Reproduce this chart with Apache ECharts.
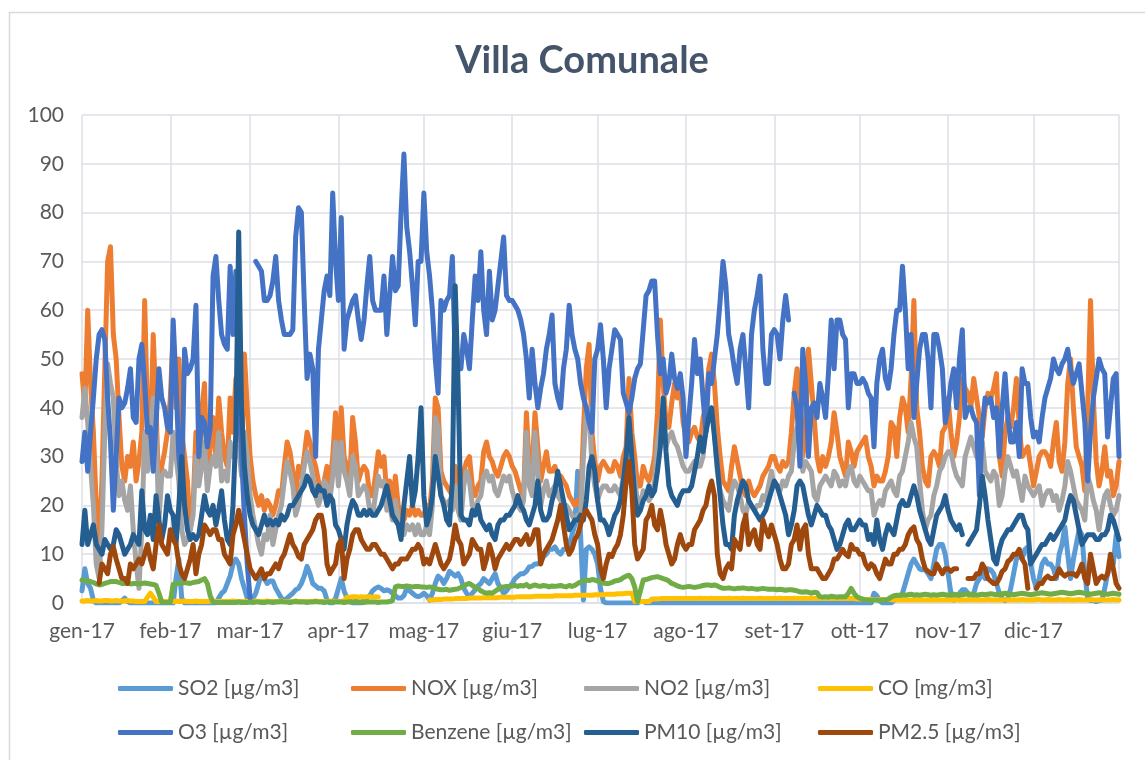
<!DOCTYPE html>
<html>
<head>
<meta charset="utf-8">
<title>Villa Comunale</title>
<script src="https://cdn.jsdelivr.net/npm/echarts@6/dist/echarts.min.js"></script>
<style>
  html, body { margin: 0; padding: 0; background: #ffffff; }
  #chart { width: 1145px; height: 760px; }
</style>
</head>
<body>
<div id="chart"></div>
<script>
// Daily means for 2017 at the Villa Comunale station.
const MONTH_LABELS = ['gen-17', 'feb-17', 'mar-17', 'apr-17', 'mag-17', 'giu-17',
                      'lug-17', 'ago-17', 'set-17', 'ott-17', 'nov-17', 'dic-17'];
const MONTH_DAYS = [31, 28, 31, 30, 31, 30, 31, 31, 30, 31, 30, 31];

const SERIES_NAMES = ['SO2 [µg/m3]', 'NOX [µg/m3]', 'NO2 [µg/m3]', 'CO [mg/m3]',
                      'O3 [µg/m3]', 'Benzene [µg/m3]', 'PM10 [µg/m3]', 'PM2.5 [µg/m3]'];
const SERIES_COLORS = ['#5B9BD5', '#ED7D31', '#A5A5A5', '#FFC000',
                       '#4472C4', '#70AD47', '#255E91', '#9E480E'];

// one row per month, Jan..Dec
const SO2 = [
  2.5,7,4,3,0.5,0,0,0,0,0, 0,0,0,0,0.5,1,0.3,0,0,0, 0,0,0,0,0,0,0,0,0,0, 0,
  0,0,5,9,1,0,0,0,0,0, 0,0,0,0,0,0,0,1,2,2.5, 4,5.5,8,9,8,5,3,1,
  0.5,1,2,4,6,5,4,4.5,4.5,3, 2,1,0.5,1,1.5,2,2.7,3,4,5.5, 7.5,6,4,3.5,3,3,2.5,0.6,0,0, 1,
  3,5,2.5,1,0.5,0,0,0,0,0.5, 1,1.5,2.5,3,3.3,3,2.5,2.7,2.5,2, 1.5,1,1,1.5,3,2.5,2,1.5,1.3,1.5,
  2,1.5,0.6,2,4,5.5,5,4,5,6.5, 6,5.5,6,5,3,2,1.3,2,2.7,3.5, 4,5,4.5,4,5,6,4,3,2,2.5, 3.3,
  4,5,5.5,6,6,6.5,7.4,7.5,8,8, 8.5,9.5,10,11,11,11.5,10.5,10,11,11, 12,14,16,27,14,0.6,11,11.5,11,10,
  8,3,0.3,0,0,0,0,0,0,0, 0,0,0,0,0,0.3,0.3,0,0,0, 0,0,0,0,0,0,0,0,0,0, 0,
  0,0,0,0,0,0,0,0,0,0, 0,0,0,0,0,0,0,0,0,0, 0,0,0,0,0,0,0,0,0,0, 0,
  0,0,0,0,0,0,0,0,0,0, 0,0,0,0,0,0,0,0,0,0, 0,0,0,0,0,0,0,0,0,0,
  0,0,0,0,0,2,1.5,0.5,0,0, 0,0,0.5,1,1,2,4,6,8,9, 8,7,6.8,6.8,6,5,8,11,12,12, 10,
  6,2,0.6,1,2,2.7,2.7,2,1,2, 4,5,6,5,7,6.8,6,4,2,1, 0.5,1,3,6,9,10,9,11,11.5,8,
  5,3,5,8,9,8,8,7,5,10, 12,15.6,10,5,9,12,15,14,6,1, 0.5,0.5,0.3,0.5,0.6,3,6,8,8,14, 9.5
];

const NOX = [
  47,40,60,45,35,20,12,25,48,70, 73,55,50,38,28,25,30,28,33,25, 29,35,62,38,32,55,40,22,28,31, 35,
  42,55,40,50,35,30,25,15,20,35, 25,39,45,25,32,38,30,42,35,30, 28,42,35,46,40,30,51,40,
  30,25,22,20,22,19,21,20,18,20, 23,22,28,33,31,27,22,28,26,30, 35,33,30,28,25,22,25,28,24,30, 39,
  27,40,30,28,25,38,33,25,27,28, 27,22,22,26,31,28,30,22,25,20, 26,20,18,17,19,18,20,18,19,18,
  18,20,19,25,42,40,27,25,24,23, 22,28,22,20,27,29,30,24,22,24, 25,31,33,30,29,27,26,28,30,31, 30,
  28,27,25,23,22,39,28,27,39,32, 25,28,31,27,27,28,26,26,25,24, 22,21,20,21,20,35,48,53,35,29,
  25,28,29,28,27,27,29,28,26,30, 32,46,35,30,24,24,28,26,25,27, 30,39,58,45,37,36,41,45,42,44, 37,
  34,33,35,36,34,33,38,40,48,51, 45,36,30,25,24,23,28,32,29,26, 23,22,25,23,22,23,24,26,27,28, 30,
  30,28,27,29,28,29,35,43,48,42, 30,35,52,45,38,30,27,30,28,30, 33,39,35,30,28,26,33,31,28,31,
  32,33,34,30,28,24,26,25,25,27, 30,37,36,30,38,42,40,35,46,62, 40,35,28,25,24,30,31,30,28,35, 36,
  42,35,30,33,38,46,44,43,40,46, 42,38,34,40,43,42,44,47,30,26, 35,38,36,40,46,36,30,31,32,28,
  24,27,30,31,31,30,28,33,37,29, 27,33,45,50,40,32,30,28,23,40, 62,42,29,24,27,32,26,27,22,24, 29
];

const NO2 = [
  38,44,37,28,20,8,5,15,35,49, 45,42,29,22,25,21,19,24,15,8, 3,15,35,27,32,42,35,17,26,27, 26,
  26,35,30,25,15,12,13,15,18,30, 24,28,33,23,28,30,28,35,25,27, 25,33,30,30,32,26,35,30,
  22,18,15,12,10,14,13,18,12,15, 18,20,25,29,27,24,18,20,24,28, 31,29,26,22,20,22,25,24,21,26, 33,
  24,33,27,25,22,30,28,22,23,24, 23,19,18,22,26,24,25,19,20,17, 21,17,15,14,16,15,16,14,16,14,
  14,16,14,20,38,36,22,21,20,21, 19,24,19,17,24,27,25,20,19,21, 22,26,27,25,26,23,22,24,26,25, 26,
  23,21,20,19,21,35,24,22,35,27, 20,23,25,22,23,24,22,21,20,20, 19,18,17,18,17,30,39,40,28,24,
  21,23,24,24,23,23,24,23,22,26, 28,35,30,25,21,20,23,22,21,22, 25,33,37,39,32,34,35,33,32,30, 28,
  27,27,28,29,28,28,30,37,39,40, 35,27,23,21,20,19,23,25,24,22, 19,18,21,20,19,20,20,22,21,24, 27,
  24,24,23,25,24,26,27,33,36,33, 27,29,28,27,22,21,24,25,26,25, 24,27,26,24,25,24,27,28,25,24,
  26,25,24,23,23,18,20,21,20,23, 24,25,23,22,26,27,30,33,37,34, 32,25,19,15,17,18,22,24,27,28, 30,
  31,31,28,26,25,24,30,32,34,32, 30,29,33,27,26,25,27,26,20,22, 27,30,28,26,27,24,21,26,24,23,
  22,23,24,20,22,23,23,21,22,19, 21,24,29,27,24,21,20,19,17,26, 24,21,19,15,19,22,23,20,18,19, 22
];

const CO = [
  0.4,0.4,0.5,0.4,0.4,0.5,0.4,0.4,0.5,0.5, 0.4,0.4,0.5,0.4,0.4,0.4,0.5,0.4,0.4,0.3, 0.3,0.3,0.3,1.2,2.0,1.2,0.3,0.3,0.4,0.3, 0.3,
  0.3,0.3,0.4,0.3,0.3,0.4,0.3,0.3,0.3,0.4, 0.3,0.3,0.3,0.3,0.4,0.3,0.3,0.3,0.3,0.3, 0.3,0.3,0.4,0.3,0.3,0.3,0.3,0.3,
  0.3,0.3,0.4,0.3,0.3,0.3,0.4,0.3,0.3,0.3, 0.3,0.4,0.3,0.3,0.3,0.3,0.4,0.3,0.3,0.3, 0.3,0.3,0.3,0.4,0.3,0.3,0.3,0.3,0.3,0.4, 0.3,
  0.3,0.3,0.4,1.2,1.2,1.3,1.3,1.2,1.3,1.2, 1.3,1.3,1.2,1.3,1.2,null,null,null,null,null, null,null,null,null,null,null,null,null,null,null,
  null,null,0.6,0.6,0.7,0.7,0.7,0.8,0.8,0.8, 0.8,0.9,0.9,0.9,0.9,0.9,1.0,1.0,1.0,1.0, 1.0,1.1,1.1,1.1,1.1,1.1,1.1,1.2,1.2,1.2, 1.2,
  1.2,1.2,1.3,1.3,1.3,1.3,1.3,1.3,1.4,1.4, 1.4,1.4,1.4,1.4,1.4,1.5,1.5,1.5,1.5,1.5, 1.5,1.5,1.6,1.6,1.6,1.6,1.6,1.6,1.6,1.7,
  1.7,1.7,1.7,1.8,1.8,1.8,1.8,1.9,1.9,1.9, 2.0,2.0,2.0,0.3,0.3,0.3,0.3,0.3,0.3,0.8, 0.8,0.8,0.9,0.9,0.9,0.9,0.9,0.9,0.9,0.9, 0.9,
  0.9,0.9,0.9,0.9,0.9,1.0,0.9,0.9,0.9,1.0, 0.9,0.9,0.9,0.9,0.9,1.0,0.9,0.9,0.9,0.9, 1.0,0.9,0.9,0.9,0.9,0.9,1.0,0.9,0.9,0.9, 0.9,
  0.9,0.9,1.0,0.9,0.9,0.9,0.9,1.0,0.9,0.9, 0.9,0.9,0.9,1.0,0.9,0.9,0.9,0.9,0.9,1.0, 0.9,0.9,0.9,0.9,0.9,1.0,0.9,0.9,0.9,0.8,
  0.8,0.8,0.7,0.7,0.7,0.7,0.7,0.7,0.7,0.7, 0.7,0.7,0.6,0.6,0.6,0.6,0.6,0.6,0.6,0.6, 0.6,0.6,0.6,0.6,0.6,0.6,0.6,0.6,0.6,0.6, 0.6,
  0.6,0.6,0.6,0.7,0.6,0.6,0.6,0.6,0.7,0.6, 0.6,0.6,0.6,0.6,0.7,0.6,0.6,0.6,0.6,0.6, 0.7,0.6,0.6,0.6,0.6,0.6,0.7,0.6,0.6,0.6,
  0.6,0.7,0.7,0.6,0.6,0.7,0.6,0.6,0.6,0.7, 0.6,0.6,0.7,0.6,0.6,0.6,0.7,0.6,0.6,0.6, 0.7,0.6,0.6,0.6,0.7,0.6,0.6,0.6,0.7,0.6, 0.6
];

const O3 = [
  29,35,27,35,42,50,55,56,54,42, 33,19,30,42,40,41,44,48,38,37, 50,53,45,35,36,27,37,48,42,40, 36,
  35,58,45,30,24,52,47,48,50,61, 30,38,37,32,36,67,71,62,55,53, 52,69,55,68,45,30,18,8,
  1,null,70,69,68,62,62,63,66,71, 62,58,55,55,55,56,75,81,80,62, 46,51,48,30,52,58,64,67,63,84, 70,
  62,79,52,58,60,62,63,58,54,58, 65,71,62,60,60,60,67,55,63,71, 64,65,80,92,77,72,65,57,70,70,
  84,72,67,60,50,43,62,60,62,63, 71,50,48,48,55,52,48,58,67,62, 72,60,55,68,58,60,65,70,75,63, 62,
  62,61,60,58,55,50,42,52,45,40, 44,47,52,55,59,45,42,40,48,52, 61,55,52,50,45,42,40,37,35,50,
  52,57,50,40,48,52,56,55,54,43, 41,39,42,46,48,49,56,63,64,66, 66,55,47,50,43,45,51,46,44,47, 42,
  30,38,45,54,47,50,42,35,47,45, 50,55,62,70,65,55,52,48,45,52, 55,48,40,55,60,63,67,52,45,45, 55,
  56,55,50,58,63,58,null,43,40,28, 52,45,30,40,41,38,45,42,38,47, 58,48,58,58,55,54,40,47,47,45,
  45,46,45,43,42,32,45,50,52,46, 44,48,55,60,60,69,60,48,55,38, 45,52,55,55,50,40,55,55,52,48, 37,
  40,45,48,40,50,56,38,40,40,38, 37,22,36,42,41,42,38,40,30,40, 47,38,33,33,37,30,48,45,45,38,
  34,35,33,38,42,44,46,50,48,47, 49,50,52,48,45,47,49,43,37,25, 35,42,46,50,48,47,34,40,46,47, 30
];

const BENZENE = [
  4.7,4.6,4.5,4.4,4.2,3.9,3.7,3.8,4,4.2, 4.4,4.4,4.4,4.2,4,4,4.1,3.9,4,4, 3.9,4,4.1,4,3.9,3.8,3.6,2,0.2,0.1, 0.1,
  0.2,3.8,4,4.1,4,4.2,4.1,4,4.2,4.3, 4.4,4.7,5,4,1.5,0.2,0.1,0.1,0.1,0.1, 0.1,0.1,0.1,0.1,0.2,0.1,0.1,0.1,
  0.2,0.1,0.2,0.2,0.1,0.1,0.2,0.2,0.1,0.2, 0.2,0.3,0.2,0.2,0.1,0.2,0.3,0.2,0.2,0.2, 0.1,0.2,0.2,0.3,0.2,0.2,0.1,0.2,0.2,0.2, 0.2,
  0.2,0.2,0.1,0.2,0.2,0.2,0.3,0.2,0.2,0.1, 0.2,0.2,0.2,0.2,0.1,0.2,0.2,0.2,0.3,0.5, 3.3,3.5,3.4,3.4,3.5,3.4,3.3,3.4,3.4,3.3,
  3.3,3.2,3.3,3.2,3.0,2.8,2.7,2.7,2.8,2.6, 2.7,2.8,2.9,3.2,3.5,3.8,4.0,3.6,3.2,3.0, 2.5,2.2,2.0,2.1,2.0,2.4,2.8,3.2,3.3,3.4, 3.4,
  3.5,3.6,3.4,3.6,3.5,3.8,3.3,3.5,3.7,3.5, 3.4,3.6,3.5,3.3,3.5,3.4,3.5,3.6,3.4,3.3, 3.6,3.4,3.6,4.0,4.3,4.5,4.7,4.6,4.8,4.7,
  4.5,4.3,4.1,4.0,4.0,4.2,4.5,4.6,4.8,5.2, 5.5,5.7,5.0,3.3,0.3,2.5,4.7,4.8,5.0,5.2, 5.3,5.4,5.2,5.0,4.8,4.5,4.0,3.8,3.5,3.3, 3.2,
  3.3,3.4,3.3,3.2,3.3,3.4,3.6,3.7,3.7,3.6, 3.7,3.5,3.2,3.0,3.0,3.1,3.0,2.9,3.0,3.0, 3.1,3.0,2.9,3.0,2.9,2.8,2.9,3.0,2.9,2.8, 2.8,
  2.8,2.7,2.8,2.7,2.6,2.7,2.7,2.6,2.5,2.3, 2.2,2.3,2.2,2.0,2.2,2.1,1.3,1.2,1.3,1.2, 1.4,1.3,1.2,1.3,1.3,1.3,2.0,3.0,2.0,1.3,
  1.0,0.8,0.6,0.6,0.5,0.6,0.6,0.5,0.6,0.6, 0.8,1.2,1.5,1.6,1.6,1.7,1.6,1.7,1.8,1.6, 1.7,1.6,1.7,1.8,1.7,1.6,1.7,1.6,1.7,1.8, 1.7,
  1.6,1.7,1.8,1.7,1.6,1.7,1.8,1.9,1.8,1.7, 1.6,1.7,1.8,1.7,1.8,1.9,1.8,1.7,1.8,1.9, 2.0,1.9,1.8,1.7,1.8,1.9,2.0,1.9,1.8,1.7,
  1.8,1.9,2.0,2.1,2.0,1.9,1.8,1.9,2.0,2.1, 2.2,2.1,2.0,1.9,2.0,2.1,2.2,2.1,2.0,1.9, 1.8,1.9,2.0,2.1,2.0,1.9,1.8,1.9,2.0,1.9, 1.8
];

const PM10 = [
  12,19,12,14,16,12,11,10,13,12, 11,12,15,14,12,10,11,12,14,13, 12,23,15,14,18,13,22,17,13,16, 22,
  19,18,12,20,30,20,15,13,14,13, 14,18,22,19,18,20,16,19,23,17, 13,12,20,35,76,40,28,22,
  18,16,15,14,16,18,16,17,16,17, 16,18,17,18,20,20,21,22,23,24, 26,25,23,22,24,23,23,20,22,21, 16,
  15,13,11,16,19,21,20,18,18,19, 18,19,18,18,19,20,22,24,21,18, 17,16,13,20,25,30,20,23,30,40,
  22,16,18,22,30,26,22,20,17,16, 25,65,45,18,17,17,16,19,18,20, 17,16,15,16,14,13,16,17,17,18, 18,
  19,20,22,20,19,17,16,18,20,25, 19,17,17,18,21,23,27,24,21,18, 15,16,17,17,18,17,21,28,30,27,
  21,17,17,16,14,16,18,19,21,25, 30,38,30,22,18,19,21,22,24,22, 23,27,32,42,31,24,22,21,20,22, 23,
  23,23,24,27,30,34,31,35,38,40, 34,28,22,16,12,12,11,18,21,23, 25,24,21,20,19,18,17,18,19,21, 23,
  25,24,22,20,18,14,16,19,24,25, 24,21,18,16,18,20,19,18,18,16, 15,13,11,12,14,16,17,15,15,16,
  17,16,16,13,14,12,17,13,11,14, 16,15,14,17,20,21,20,20,22,24, 22,19,17,15,13,12,15,18,19,20, 22,
  19,17,16,15,16,14,null,12,13,14, 15,20,26,22,17,13,9,8,11,13, 14,15,15,16,17,18,18,16,15,8,
  9,10,11,12,12,13,14,13,14,15, 16,17,20,22,21,18,15,12,13,14, 14,14,13,13,14,14,15,18,17,15, 13
];

const PM25 = [
  null,null,null,null,null,null, 4,8,7,6, 10,11.5,9,7,5,5,4,8,7,8, 9,8,10,12,9,7,12,16,12,11, 10,
  15,13,12,8,6,5,7,9,12,6, 10,12,16,15,14,15,15,13,13,10, 9,8,14,16,19,16,13,10,
  7,6,5,6,7,5,6,6,7,8, 7,9,10,12,14,12,11,9.5,9,12, 13,14,15,17,18,18,15,8,6,7, 8,
  12,13,5,9,11,14,15,15,13,12, 11,11,12,12,11,10,10,9,8,7, 8,8,9,9,9,10,11,11,12,11,
  8,9,8,10,12,10,8,7,8,9, 12,16,13,12,8,9,10,13,12,11, 11,7,9,12,10,7,9,10,11,12, 11,
  12,13,13,12,13,14,12,13,15,15, 8,10,11,12,13,15,17,20,16,12, 10,11,13,14,16,18,19,18,17,14,
  12,7,5,8,10,9.5,11,12,14,18, 25,29,23,12,9,10,11,17,18,20, 16,15,19,16,12,10,8,9,12,14, 12,
  11,12,12,15,16,17,19,20,23,25, 22,10,6,5,7,8,7,13,12,11, 16,18,12,14,15,12,11,17,15,13.6, 16,
  14,12,9,7,7,8,12,13,16,11, 15,16,10,7,7,7,6,5,5,6, 7,9,9,10,11,10,9.5,12,11,11,
  10,10,8,7,8,7.5,6,5,7,9, 8,8,10,10,11,11,12,14,15,15.6, 13,12,9,7,6.5,6,6,8,7,6, 7,
  7,6.5,7,7,null,null,null,5,5,5, 6,6,8,7,5,4.5,4,4,5,6.5, 7,8.5,9,10,10,11,9,8,3,null,
  null,3,4,4,5,5.5,5,5,5.5,7, 6,5.5,6,6,6,5.5,6.5,8,5,4, 10,7,4,5,5.5,5,6,10,7,4, 3
];

const SERIES_DATA = [SO2, NOX, NO2, CO, O3, BENZENE, PM10, PM25];

// one category per day; month starts carry the month label
const days = [];
const labelOf = {};
MONTH_DAYS.forEach((count, m) => {
  for (let d = 1; d <= count; d++) {
    const key = '2017-' + String(m + 1).padStart(2, '0') + '-' + String(d).padStart(2, '0');
    days.push(key);
    if (d === 1) labelOf[key] = MONTH_LABELS[m];
  }
});
const lastIndex = days.length - 1;

const TEXT_FONT = 'Lato, "Noto Sans", sans-serif';
const GRID_COLOR = '#DCDFE6';
const LEGEND_X = [118, 351, 584, 818];
const LEGEND_Y = [678, 722];

const chart = echarts.init(document.getElementById('chart'), null, { renderer: 'canvas' });

chart.setOption({
  animation: false,
  backgroundColor: '#ffffff',
  color: SERIES_COLORS,
  title: {
    text: 'Villa Comunale',
    left: 577,
    top: 37,
    textAlign: 'center',
    textStyle: { fontFamily: TEXT_FONT, fontWeight: 'bold', fontSize: 38, color: '#44546A' }
  },
  graphic: [{
    type: 'rect',
    left: 7, top: 10,
    shape: { width: 1150, height: 770 },
    style: { fill: 'none', stroke: '#D9D9D9', lineWidth: 1.5 },
    silent: true
  }],
  legend: SERIES_NAMES.map((name, i) => ({
    data: [name],
    left: LEGEND_X[i % 4],
    top: LEGEND_Y[Math.floor(i / 4)],
    padding: 0,
    icon: 'roundRect',
    itemWidth: 55,
    itemHeight: 5,
    selectedMode: false,
    textStyle: { fontFamily: TEXT_FONT, fontSize: 21, color: '#595959' }
  })),
  grid: { left: 82, right: 26, top: 115, bottom: 157, containLabel: false },
  xAxis: {
    type: 'category',
    data: days,
    boundaryGap: false,
    axisLine: { show: true, lineStyle: { color: GRID_COLOR, width: 1.5 } },
    axisTick: { show: false },
    axisLabel: {
      interval: (idx, val) => !!labelOf[val],
      formatter: val => labelOf[val] || '',
      margin: 18,
      fontFamily: TEXT_FONT,
      fontSize: 21,
      color: '#595959'
    },
    splitLine: {
      show: true,
      interval: (idx, val) => !!labelOf[val] || idx === lastIndex,
      lineStyle: { color: GRID_COLOR, width: 1.5 }
    }
  },
  yAxis: {
    type: 'value',
    min: 0,
    max: 100,
    interval: 10,
    axisLine: { show: false },
    axisTick: { show: false },
    axisLabel: { margin: 18, fontFamily: TEXT_FONT, fontSize: 21, color: '#595959' },
    splitLine: { show: true, lineStyle: { color: GRID_COLOR, width: 1.5 } }
  },
  series: SERIES_NAMES.map((name, i) => ({
    name,
    type: 'line',
    data: SERIES_DATA[i],
    showSymbol: false,
    symbol: 'none',
    connectNulls: false,
    sampling: null,
    lineStyle: { width: 5, color: SERIES_COLORS[i], cap: 'round', join: 'round' },
    itemStyle: { color: SERIES_COLORS[i] },
    emphasis: { disabled: true }
  }))
});
</script>
</body>
</html>
